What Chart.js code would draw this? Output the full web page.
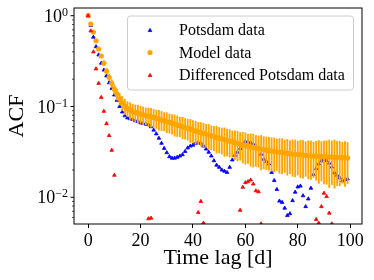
<!DOCTYPE html>
<html><head><meta charset="utf-8">
<script src="https://cdn.jsdelivr.net/npm/chart.js@4/dist/chart.umd.min.js"></script>
<style>html,body{margin:0;padding:0;background:#fff;}#wrap{width:374px;height:280px;}</style>
</head><body><div id="wrap"><canvas id="c" width="374" height="280"></canvas></div>
<script>
// ---- data ----
const lags = Array.from({length: 100}, (_, i) => i);
const potsdam = [1.0,0.78,0.58,0.456,0.37,0.30,0.252,0.217,0.183,0.158,
0.134,0.117,0.100,0.087,0.079,0.075,0.0735,0.072,0.0697,0.0687,
0.066,0.065,0.064,0.063,0.060,0.055,0.050,0.0448,0.0394,0.0346,
0.031,0.028,0.027,0.027,0.0276,0.0285,0.0295,0.032,0.035,0.0367,
0.0375,0.0394,0.040,0.0394,0.0367,0.034,0.0314,0.0285,0.0253,0.0226,
0.0214,0.020,0.0194,0.0188,0.0214,0.0258,0.029,0.0314,0.0346,0.0385,
0.041,0.041,0.040,0.0385,0.0367,0.0338,0.0299,0.0263,0.0248,0.0233,
0.0188,0.0153,0.0122,0.0091,0.0088,0.0076,0.0063,0.0066,0.0092,0.0114,
0.013,0.0133,0.0104,0.0079,0.0096,0.0126,0.0178,0.0207,0.0233,0.0252,
0.0263,0.0253,0.0238,0.0216,0.0186,0.0175,0.0164,0.0152,0.0156,0.0159];
const model = [1.0,0.81,0.66,0.53,0.43,0.36,0.30,0.246,0.21,0.18,
0.155,0.137,0.122,0.11,0.101,0.095,0.091,0.088,0.086,0.0845,
0.083,0.081,0.0795,0.0785,0.0772,0.0758,0.0742,0.0728,0.0713,0.0698,
0.0684,0.067,0.0655,0.064,0.0627,0.0613,0.06,0.0587,0.0575,0.0562,
0.055,0.0538,0.0527,0.0516,0.0505,0.0495,0.0485,0.0475,0.0466,0.0457,
0.0448,0.044,0.0432,0.0424,0.0416,0.0408,0.04,0.0393,0.0386,0.0379,
0.0372,0.0366,0.036,0.0355,0.035,0.0345,0.034,0.0336,0.0332,0.0328,
0.0324,0.032,0.0317,0.0314,0.0311,0.0308,0.0305,0.0302,0.03,0.0298,
0.0296,0.0294,0.0292,0.029,0.0289,0.0287,0.0285,0.0284,0.0282,0.0281,
0.028,0.0279,0.0278,0.0277,0.0276,0.0275,0.0274,0.0273,0.0272,0.0271];
const modelErr = [0,0.012,0.014,0.015,0.016,0.016,0.017,0.017,0.018,0.018,
0.018,0.019,0.018,0.019,0.019,0.018,0.019,0.018,0.018,0.019,
0.018,0.018,0.017,0.018,0.018,0.017,0.017,0.018,0.017,0.016,
0.017,0.016,0.016,0.017,0.016,0.015,0.016,0.015,0.015,0.016,
0.015,0.015,0.014,0.015,0.015,0.014,0.015,0.014,0.014,0.015,
0.014,0.014,0.015,0.014,0.014,0.013,0.014,0.014,0.013,0.014,
0.014,0.013,0.014,0.014,0.013,0.013,0.014,0.013,0.013,0.013,
0.013,0.013,0.012,0.013,0.013,0.012,0.013,0.012,0.013,0.013,
0.012,0.013,0.013,0.012,0.013,0.013,0.012,0.013,0.014,0.013,
0.014,0.014,0.015,0.014,0.015,0.014,0.014,0.013,0.014,0.013];
const differenced = [1.0,0.68,0.40,0.26,0.18,0.126,0.0885,0.0647,0.0478,0.033,
0.0175,null,null,null,null,null,null,null,null,null,
null,null,null,0.0058,0.0059,null,null,null,null,null,
null,null,null,null,null,null,null,null,null,null,
null,null,0.0068,0.009,0.0052,null,null,null,null,null,
null,null,null,null,null,null,null,null,0.0072,0.0129,
0.0145,0.0149,0.0155,0.014,0.0118,0.0115,0.0051,null,null,null,
null,null,null,null,null,null,null,null,null,null,
null,null,null,null,null,null,null,0.0057,0.0052,0.0079,
0.0111,0.0102,0.0067,0.0051,null,null,null,null,null,null];
const xTicks = [0, 20, 40, 60, 80, 100];
const yMajorTicks = [1, 0.1, 0.01];
const yMajorExp = ['0', '\u22121', '\u22122'];
const yMinorTicks = [0.006,0.007,0.008,0.009,0.02,0.03,0.04,0.05,0.06,0.07,0.08,0.09,0.2,0.3,0.4,0.5,0.6,0.7,0.8,0.9];
const seriesNames = ['Potsdam data', 'Model data', 'Differenced Potsdam data'];
const colors = ['#0000ff', '#ffa500', '#ff0000'];

const FONT = 'Liberation Serif';
Chart.defaults.font.family = FONT;
Chart.defaults.color = '#000';

function tri(ctx, x, y, r) {
  ctx.beginPath();
  let rad = 0;
  ctx.moveTo(x + Math.sin(rad) * r, y - Math.cos(rad) * r);
  rad += 2 * Math.PI / 3;
  ctx.lineTo(x + Math.sin(rad) * r, y - Math.cos(rad) * r);
  rad += 2 * Math.PI / 3;
  ctx.lineTo(x + Math.sin(rad) * r, y - Math.cos(rad) * r);
  ctx.closePath();
}

const overlay = {
  id: 'overlay',
  afterDraw(chart) {
    const {ctx, chartArea: a} = chart;
    const y = chart.scales.y;
    ctx.save();
    // frame
    ctx.strokeStyle = '#000';
    ctx.lineWidth = 1;
    ctx.strokeRect(a.left, a.top, a.right - a.left, a.bottom - a.top);
    // minor y ticks
    ctx.lineWidth = 0.7;
    yMinorTicks.forEach(v => {
      const p = y.getPixelForValue(v);
      if (p < a.top || p > a.bottom) return;
      ctx.beginPath(); ctx.moveTo(a.left - 2, p); ctx.lineTo(a.left, p); ctx.stroke();
    });
    // major y ticks + labels
    ctx.lineWidth = 1;
    yMajorTicks.forEach((v, i) => {
      const p = y.getPixelForValue(v);
      ctx.beginPath(); ctx.moveTo(a.left - 3.5, p); ctx.lineTo(a.left, p); ctx.stroke();
      const right = a.left - 6;
      ctx.fillStyle = '#000';
      ctx.textBaseline = 'alphabetic';
      ctx.font = '12px "' + FONT + '"';
      const ew = ctx.measureText(yMajorExp[i]).width;
      ctx.textAlign = 'left';
      ctx.fillText(yMajorExp[i], right - ew, p);
      ctx.font = '18px "' + FONT + '"';
      ctx.textAlign = 'right';
      ctx.fillText('10', right - ew, p + 6);
    });
    // legend
    const lx = 127.5, ly = 16, lw = 226, lh = 74, rr = 3;
    ctx.beginPath();
    ctx.moveTo(lx + rr, ly);
    ctx.arcTo(lx + lw, ly, lx + lw, ly + lh, rr);
    ctx.arcTo(lx + lw, ly + lh, lx, ly + lh, rr);
    ctx.arcTo(lx, ly + lh, lx, ly, rr);
    ctx.arcTo(lx, ly, lx + lw, ly, rr);
    ctx.closePath();
    ctx.fillStyle = 'rgba(255,255,255,0.8)';
    ctx.fill();
    ctx.strokeStyle = '#cccccc';
    ctx.lineWidth = 1;
    ctx.stroke();
    const rows = [30, 52.5, 75];
    ctx.font = '16px "' + FONT + '"';
    ctx.textAlign = 'left';
    ctx.textBaseline = 'middle';
    seriesNames.forEach((name, i) => {
      const cy = rows[i];
      ctx.fillStyle = colors[i];
      ctx.strokeStyle = colors[i];
      if (i === 1) {
        ctx.beginPath(); ctx.arc(150, cy, 2.6, 0, Math.PI * 2); ctx.fill();
      } else {
        tri(ctx, 150, cy + 0.5, 2.1); ctx.fill(); ctx.lineWidth = 0.8; ctx.stroke();
      }
      ctx.fillStyle = '#000';
      ctx.fillText(name, 179, cy + 1);
    });
    ctx.restore();
  }
};

const errBars = lags.map((x, i) => ({x, y: [model[i] - modelErr[i], model[i] + modelErr[i]]}));

new Chart(document.getElementById('c'), {
  type: 'scatter',
  data: {
    datasets: [
      {label: seriesNames[0], data: lags.map((x, i) => ({x, y: potsdam[i]})),
       pointStyle: 'triangle', pointRadius: 2.1, pointBorderWidth: 0.8,
       backgroundColor: colors[0], borderColor: colors[0], order: 3},
      {type: 'bar', label: 'err', data: errBars, backgroundColor: colors[1],
       borderWidth: 0, barThickness: 1.2, order: 2},
      {label: seriesNames[1], data: lags.map((x, i) => ({x, y: model[i]})),
       pointStyle: 'circle', pointRadius: 2.6, pointBorderWidth: 0,
       backgroundColor: colors[1], borderColor: colors[1], order: 1},
      {label: seriesNames[2], data: lags.map((x, i) => ({x, y: differenced[i]})),
       pointStyle: 'triangle', pointRadius: 2.1, pointBorderWidth: 0.8,
       backgroundColor: colors[2], borderColor: colors[2], order: 0}
    ]
  },
  options: {
    responsive: false,
    animation: false,
    events: [],
    layout: {padding: {top: 8, right: 12, left: 0, bottom: 0}},
    plugins: {legend: {display: false}, tooltip: {enabled: false}},
    scales: {
      x: {
        type: 'linear', min: -5.4, max: 104.5, offset: false,
        grid: {display: true, drawOnChartArea: false, offset: false, tickLength: 4, tickColor: '#000', tickWidth: 1},
        border: {display: false},
        afterBuildTicks: s => { s.ticks = xTicks.map(v => ({value: v})); },
        ticks: {font: {size: 18}, color: '#000', padding: 2, maxRotation: 0, autoSkip: false},
        title: {display: true, text: 'Time lag [d]', font: {size: 22}, color: '#000', padding: {top: 0, bottom: 9}},
        afterFit: s => { s.height = 56; }
      },
      y: {
        type: 'logarithmic', min: 0.00508, max: 1.216,
        grid: {display: false},
        border: {display: false},
        ticks: {display: false},
        title: {display: true, text: 'ACF', font: {size: 22}, color: '#000', padding: {top: 4, bottom: 0}},
        afterFit: s => { s.width = 74; }
      }
    }
  },
  plugins: [overlay]
});
</script>
</body></html>
